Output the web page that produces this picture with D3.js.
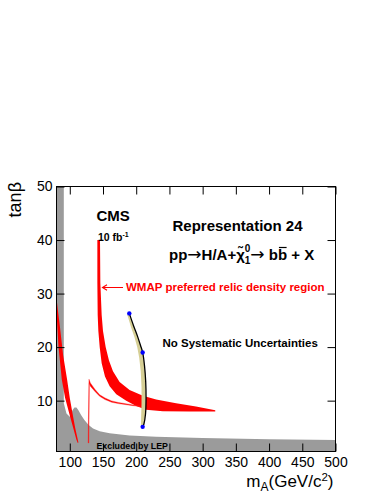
<!DOCTYPE html>
<html>
<head>
<meta charset="utf-8">
<script src="https://cdn.jsdelivr.net/npm/d3@7"></script>
<style>
  body { margin: 0; background: #fff; }
  text { font-family: "Liberation Sans", Arial, Helvetica, sans-serif; }
</style>
</head>
<body>
<div id="chart"></div>
<script>
// axis ticks
const massTicks = [100, 150, 200, 250, 300, 350, 400, 450, 500];
const massMinor = d3.range(80, 501, 10);
const tanbTicks = [10, 20, 30, 40, 50];
const tanbMinor = d3.range(2, 51, 2);

// LEP excluded region, upper edge [mA, tanb]
const lepEdge = [[80, 50], [91, 50], [91, 9.5], [95, 7.6], [100, 7.0], [102, 7.3], [104, 8.2],
  [107, 8.7], [110, 8.7], [113, 8.2], [117, 7.3], [122, 6.4], [128, 5.5], [135, 4.8],
  [145, 4.3], [160, 3.9], [190, 3.5], [230, 3.25], [300, 3.0], [400, 2.8], [500, 2.65]];

// WMAP bands (outer edge, inner edge)
const leftBandOuter = [[80, 29.2], [82, 27], [85, 24], [90, 18.5], [96, 13.9], [100, 10.5],
  [104, 7.7], [108, 5], [113, 2.2]];
const leftBandInner = [[80, 26.4], [83, 20.1], [88, 13.9], [93, 10.5], [99, 7.7], [105, 5],
  [110, 2.7], [112, 2.1]];

const mainBandOuter = [[145.5, 40], [146, 32], [148, 26], [150, 23], [154, 20], [159, 17.5],
  [165, 15.5], [175, 13.5], [190, 12], [210, 10.9], [230, 10.2], [260, 9.5], [290, 8.9], [319, 8.2]];
const mainBandInner = [[141.5, 40], [141.5, 32], [142, 26], [143, 23], [145, 20], [148, 17],
  [153, 14.5], [160, 12.7], [170, 11.2], [185, 10], [200, 9], [215, 8.3], [240, 8.0],
  [280, 7.95], [319, 7.95]];

const spikeUpper = [[127.6, 2.1], [128.9, 14], [131, 13.3], [138, 12.1], [145, 11.1],
  [153, 10.5], [163, 9.95], [173, 9.65], [193, 9.25], [206, 9.0]];
const spikeLower = [[128.7, 2.1], [129.4, 13.2], [131, 12.7], [138, 11.7], [145, 10.8],
  [153, 10.2], [163, 9.7], [173, 9.45], [193, 9.1], [206, 8.9]];

// fitted curve with its band and the three points
const fitLine = [[189.6, 26.3], [196, 24], [202, 22], [206.5, 20.3], [209.7, 19.0],
  [212.5, 16.5], [214.3, 13.5], [214.8, 10.5], [214, 7.5], [211.5, 5.6], [209.7, 5.1]];
const fitBandLeft = [[186.5, 26.1], [192, 23.8], [197.5, 21.8], [201.5, 20], [204.5, 18],
  [206.8, 15.5], [208, 12.5], [208, 9.5], [207.3, 6.5], [207, 5.0]];
const fitPoints = [[189.6, 26.3], [209.7, 19.0], [209.7, 5.1]];

const width = 382, height = 494;
const margin = { top: 186.5, right: 46.5, bottom: 42.5, left: 56.5 };

const svg = d3.select("#chart").append("svg")
  .attr("width", width).attr("height", height);

const x = d3.scaleLinear().domain([80, 500]).range([margin.left, width - margin.right]);
const y = d3.scaleLinear().domain([0.5, 50]).range([height - margin.bottom, margin.top]);

svg.append("clipPath").attr("id", "frame")
  .append("rect")
  .attr("x", x(80)).attr("y", y(50))
  .attr("width", x(500) - x(80)).attr("height", y(0.5) - y(50));

const plot = svg.append("g").attr("clip-path", "url(#frame)");
const line = d3.line().x(d => x(d[0])).y(d => y(d[1]));
const poly = d3.line().x(d => x(d[0])).y(d => y(d[1])).curve(d3.curveLinearClosed);

// LEP region
plot.append("path")
  .attr("d", poly(lepEdge.concat([[500, 0.5], [80, 0.5]])))
  .attr("fill", "#9b9b9b");

// WMAP red bands
[[leftBandOuter, leftBandInner], [mainBandOuter, mainBandInner]].forEach(b => {
  plot.append("path")
    .attr("d", poly(b[0].concat(b[1].slice().reverse())))
    .attr("fill", "#ff0000");
});
plot.append("path")
  .attr("d", poly(spikeUpper.concat(spikeLower.slice().reverse())))
  .attr("fill", "#ff0000")
  .attr("stroke", "#ff2020")
  .attr("stroke-width", 0.4);

// fit band
plot.append("path")
  .attr("d", poly(fitLine.concat(fitBandLeft.slice().reverse())))
  .attr("fill", "#d6cf95");
plot.append("path")
  .attr("d", line.curve(d3.curveCatmullRom)(fitLine))
  .attr("fill", "none")
  .attr("stroke", "#000")
  .attr("stroke-width", 1.3);
plot.selectAll("circle").data(fitPoints).join("circle")
  .attr("cx", d => x(d[0])).attr("cy", d => y(d[1]))
  .attr("r", 2.2).attr("fill", "#0000ff");

// axes, ROOT style ticks inside the frame
const fmt = d3.format("d");
const axB = svg.append("g").attr("transform", `translate(0,${y(0.5)})`);
axB.call(d3.axisBottom(x).tickValues(massMinor).tickSize(-4).tickSizeOuter(0).tickFormat(""));
axB.call(d3.axisBottom(x).tickValues(massTicks).tickSize(-8).tickSizeOuter(0)
  .tickPadding(5.5).tickFormat(fmt));
const axT = svg.append("g").attr("transform", `translate(0,${y(50)})`);
axT.call(d3.axisTop(x).tickValues(massMinor).tickSize(-4).tickSizeOuter(0).tickFormat(""));
axT.call(d3.axisTop(x).tickValues(massTicks).tickSize(-8).tickSizeOuter(0).tickFormat(""));
const axL = svg.append("g").attr("transform", `translate(${x(80)},0)`);
axL.call(d3.axisLeft(y).tickValues(tanbMinor).tickSize(-4).tickSizeOuter(0).tickFormat(""));
axL.call(d3.axisLeft(y).tickValues(tanbTicks).tickSize(-8).tickSizeOuter(0)
  .tickPadding(4).tickFormat(fmt));
const axR = svg.append("g").attr("transform", `translate(${x(500)},0)`);
axR.call(d3.axisRight(y).tickValues(tanbMinor).tickSize(-4).tickSizeOuter(0).tickFormat(""));
axR.call(d3.axisRight(y).tickValues(tanbTicks).tickSize(-8).tickSizeOuter(0).tickFormat(""));

svg.selectAll(".domain").remove();
svg.selectAll(".tick line").attr("stroke", "#000").attr("stroke-width", 1);
svg.selectAll(".tick text")
  .style("font-family", "'Liberation Sans', Arial, sans-serif")
  .style("font-size", "14px").attr("fill", "#000");

svg.append("rect")
  .attr("x", x(80)).attr("y", y(50))
  .attr("width", x(500) - x(80)).attr("height", y(0.5) - y(50))
  .attr("fill", "none").attr("stroke", "#000").attr("stroke-width", 1);

// axis titles
svg.append("text")
  .attr("transform", "translate(21,182) rotate(-90)")
  .attr("text-anchor", "end")
  .style("font-size", "18px")
  .text("tanβ");

const xt = svg.append("text")
  .attr("x", 333.5).attr("y", 487)
  .attr("text-anchor", "end")
  .style("font-size", "17px");
xt.append("tspan").text("m");
xt.append("tspan").attr("dy", 4).style("font-size", "12px").text("A");
xt.append("tspan").attr("dy", -4).text("(GeV/c");
xt.append("tspan").attr("dy", -6.5).style("font-size", "11.5px").text("2");
xt.append("tspan").attr("dy", 6.5).text(")");

// labels
svg.append("text").attr("x", 96.5).attr("y", 221)
  .style("font-size", "15px").style("font-weight", "bold").text("CMS");
const lumi = svg.append("text").attr("x", 98).attr("y", 240.5)
  .style("font-size", "10.5px").style("font-weight", "bold");
lumi.append("tspan").text("10 fb");
lumi.append("tspan").attr("dy", -4).style("font-size", "7px").text("-1");

svg.append("text").attr("x", 172.5).attr("y", 230.5)
  .style("font-size", "15px").style("font-weight", "bold").text("Representation 24");

const arrowFont = "'DejaVu Sans', sans-serif";
const proc = svg.append("text").attr("x", 169).attr("y", 260)
  .style("font-size", "15px").style("font-weight", "bold");
proc.append("tspan").text("pp");
proc.append("tspan").style("font-family", arrowFont).style("font-weight", "normal")
  .style("font-size", "17px").text("→");
proc.append("tspan").text("H/A+χ\u0303");
proc.append("tspan").attr("dy", -8).style("font-size", "10px").text("0");
proc.append("tspan").attr("dx", -5.6).attr("dy", 12).style("font-size", "10px").text("1");
proc.append("tspan").attr("dy", -4).style("font-family", arrowFont).style("font-weight", "normal")
  .style("font-size", "17px").text("→");
proc.append("tspan").text(" b");
const bbar = proc.append("tspan").text("b");
proc.append("tspan").text(" + X");
const bb = bbar.node().getExtentOfChar(0);
svg.append("line")
  .attr("x1", bb.x + 1).attr("x2", bb.x + bb.width - 0.5)
  .attr("y1", bb.y + 1.5).attr("y2", bb.y + 1.5)
  .attr("stroke", "#000").attr("stroke-width", 1.2);

svg.append("text").attr("x", 126).attr("y", 291)
  .style("font-size", "11.5px").style("font-weight", "bold")
  .attr("fill", "#ff0000").text("WMAP preferred relic density region");
svg.append("path")
  .attr("d", "M123,287.5H103M107,284.8L102.5,287.5L107,290.2")
  .attr("fill", "none").attr("stroke", "#ff0000").attr("stroke-width", 1.1);

svg.append("text").attr("x", 162.5).attr("y", 347)
  .style("font-size", "11.5px").style("font-weight", "bold")
  .text("No Systematic Uncertainties");

svg.append("text").attr("x", 96.5).attr("y", 448.5)
  .style("font-size", "8.8px").style("font-weight", "bold")
  .text("Excluded by LEP");
</script>
</body>
</html>
